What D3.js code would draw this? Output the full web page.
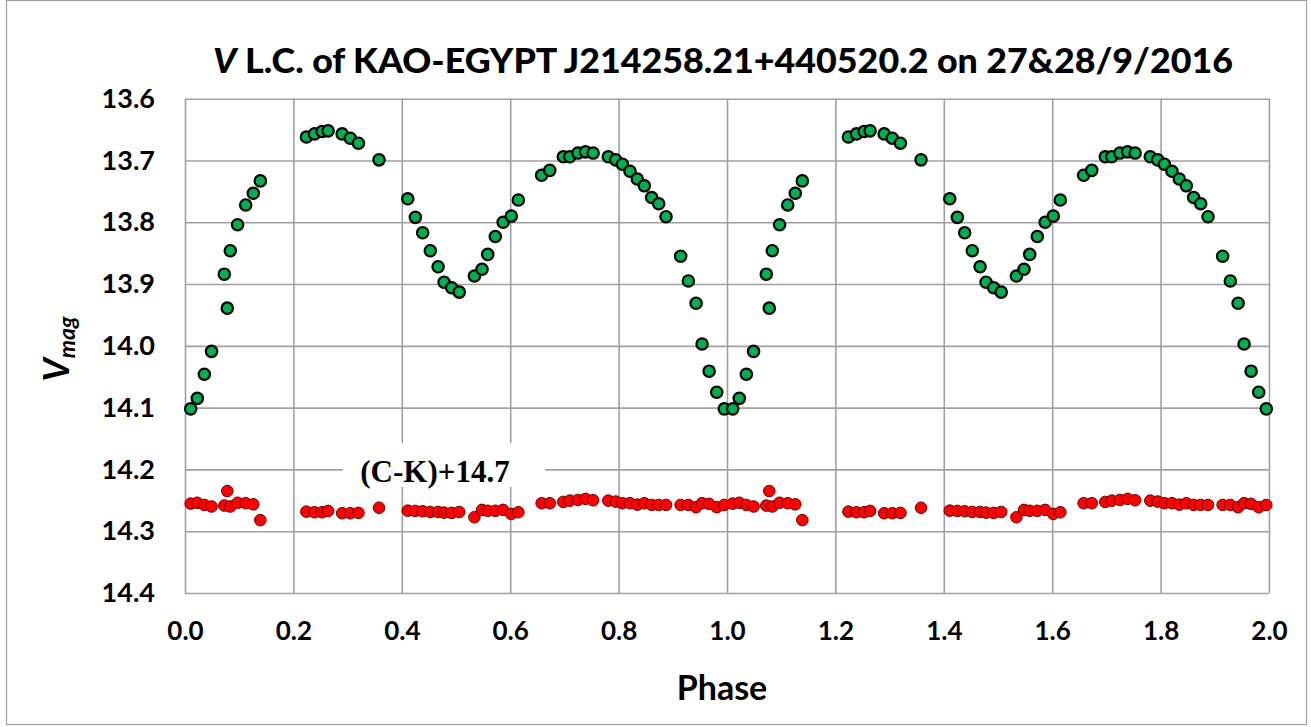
<!DOCTYPE html>
<html>
<head>
<meta charset="utf-8">
<script src="https://d3js.org/d3.v7.min.js"></script>
<style>
  body { margin: 0; background: #fff; }
  svg { display: block; font-family: Lato, "Open Sans", sans-serif; }
</style>
</head>
<body>
<svg width="1311" height="727"></svg>
<script>
// Observations folded on one cycle (phase 0..1), plotted twice (0..2)
var phase = [0.0105, 0.0227, 0.0357, 0.049, 0.0725, 0.078, 0.0836, 0.097, 0.112, 0.126, 0.139,
  0.224, 0.239, 0.253, 0.264, 0.290, 0.305, 0.320, 0.358,
  0.411, 0.425, 0.4385, 0.4526, 0.467, 0.478, 0.492, 0.506,
  0.534, 0.548, 0.5585, 0.5725, 0.587, 0.602, 0.615,
  0.658, 0.673, 0.698, 0.710, 0.725, 0.739, 0.753,
  0.781, 0.7946, 0.807, 0.821, 0.8345, 0.8475, 0.861, 0.874, 0.8875,
  0.9145, 0.9287, 0.943, 0.954, 0.967, 0.981, 0.995];

var vmag = [14.102, 14.085, 14.046, 14.009, 13.884, 13.939, 13.846, 13.804, 13.772, 13.753, 13.733,
  13.662, 13.657, 13.653, 13.652, 13.657, 13.664, 13.672, 13.699,
  13.762, 13.792, 13.817, 13.846, 13.872, 13.897, 13.906, 13.913,
  13.887, 13.876, 13.852, 13.823, 13.800, 13.790, 13.764,
  13.724, 13.716, 13.694, 13.694, 13.688, 13.686, 13.688,
  13.694, 13.699, 13.706, 13.7175, 13.730, 13.741, 13.760, 13.770, 13.791,
  13.855, 13.895, 13.931, 13.997, 14.041, 14.075, 14.102];

// comparison minus check, shifted by +14.7
var ckmag = [14.2553, 14.254, 14.2575, 14.260, 14.2585, 14.235, 14.260, 14.254, 14.2547, 14.2565, 14.282,
  14.2683, 14.2693, 14.2693, 14.2672, 14.2709, 14.2709, 14.2704, 14.262,
  14.2667, 14.2672, 14.2677, 14.2688, 14.2688, 14.2699, 14.2704, 14.2688,
  14.2774, 14.2655, 14.267, 14.267, 14.2655, 14.272, 14.2693,
  14.2547, 14.2547, 14.2526, 14.2505, 14.2494, 14.2477, 14.2499,
  14.2505, 14.252, 14.2547, 14.2547, 14.257, 14.2547, 14.2575, 14.2575, 14.2575,
  14.2575, 14.2575, 14.2612, 14.2547, 14.2558, 14.2612, 14.2575];

var cycles = [0, 1];
var xTicks = [0, 0.2, 0.4, 0.6, 0.8, 1.0, 1.2, 1.4, 1.6, 1.8, 2.0];
var yTicks = [13.6, 13.7, 13.8, 13.9, 14.0, 14.1, 14.2, 14.3, 14.4];

var svg = d3.select("svg");

var plotLeft = 185, plotRight = 1269, plotTop = 98.7, plotBottom = 593;

var x = d3.scaleLinear().domain([0, 2]).range([plotLeft, plotRight]);
var y = d3.scaleLinear().domain([13.6, 14.4]).range([plotTop, plotBottom]);

// build points for both cycles
var points = [];
cycles.forEach(function (c) {
  phase.forEach(function (p, i) {
    points.push({ ph: p + c, v: vmag[i], ck: ckmag[i] });
  });
});

// outer chart border
svg.append("rect")
  .attr("x", 6.5).attr("y", 0.5)
  .attr("width", 1300).attr("height", 724)
  .attr("fill", "none")
  .attr("stroke", "#a0a0a0")
  .attr("stroke-width", 1.2);

// gridlines
svg.append("g")
  .attr("transform", "translate(0," + plotBottom + ")")
  .call(d3.axisBottom(x).tickValues(xTicks).tickSize(-(plotBottom - plotTop)).tickFormat(""))
  .call(function (g) { g.select(".domain").remove(); })
  .selectAll("line").attr("stroke", "#a0a0a0").attr("stroke-width", 1.6);

svg.append("g")
  .attr("transform", "translate(" + plotLeft + ",0)")
  .call(d3.axisLeft(y).tickValues(yTicks).tickSize(-(plotRight - plotLeft)).tickFormat(""))
  .call(function (g) { g.select(".domain").remove(); })
  .selectAll("line").attr("stroke", "#a0a0a0").attr("stroke-width", 1.6);

// tick labels
svg.append("g")
  .attr("transform", "translate(0," + plotBottom + ")")
  .call(d3.axisBottom(x).tickValues(xTicks).tickSize(0).tickPadding(29).tickFormat(d3.format(".1f")))
  .call(function (g) { g.select(".domain").remove(); })
  .selectAll("text")
  .attr("font-family", "Lato, sans-serif")
  .attr("font-size", 26).attr("font-weight", "bold").attr("fill", "#000");

svg.append("g")
  .attr("transform", "translate(" + plotLeft + ",0)")
  .call(d3.axisLeft(y).tickValues(yTicks).tickSize(0).tickPadding(30).tickFormat(d3.format(".1f")))
  .call(function (g) { g.select(".domain").remove(); })
  .selectAll("text")
  .attr("font-family", "Lato, sans-serif")
  .attr("font-size", 27).attr("font-weight", "bold").attr("fill", "#000");

// (C-K) label with white box over the grid
svg.append("rect")
  .attr("x", 343).attr("y", 443)
  .attr("width", 202).attr("height", 44)
  .attr("fill", "#fff");
svg.append("text")
  .attr("x", 435).attr("y", 482)
  .attr("text-anchor", "middle")
  .attr("font-family", "'Liberation Serif', 'Times New Roman', serif")
  .attr("font-weight", "bold")
  .attr("font-size", 31)
  .text("(C-K)+14.7");

// red comparison points
svg.append("g")
  .selectAll("circle")
  .data(points)
  .enter().append("circle")
  .attr("cx", function (d) { return x(d.ph); })
  .attr("cy", function (d) { return y(d.ck); })
  .attr("r", 5.8)
  .attr("fill", "#ff0000")
  .attr("stroke", "#6b0000")
  .attr("stroke-width", 1);

// green variable points
svg.append("g")
  .selectAll("circle")
  .data(points)
  .enter().append("circle")
  .attr("cx", function (d) { return x(d.ph); })
  .attr("cy", function (d) { return y(d.v); })
  .attr("r", 5.7)
  .attr("fill", "#00b050")
  .attr("stroke", "#000")
  .attr("stroke-width", 2.2);

// title
var title = svg.append("text")
  .attr("x", 723).attr("y", 73)
  .attr("text-anchor", "middle")
  .attr("font-family", "Lato, sans-serif")
  .attr("font-weight", "900")
  .attr("font-size", 35)
  .attr("textLength", 1020)
  .attr("lengthAdjust", "spacingAndGlyphs");
title.append("tspan").attr("font-style", "italic").text("V");
title.append("tspan").text(" L.C. of KAO-EGYPT J214258.21+440520.2 on 27&28/9/2016");

// axis titles
svg.append("text")
  .attr("x", 722).attr("y", 700)
  .attr("text-anchor", "middle")
  .attr("font-family", "Lato, sans-serif")
  .attr("font-weight", "bold")
  .attr("font-size", 34)
  .text("Phase");

var ylab = svg.append("text")
  .attr("transform", "translate(69,349) rotate(-90)")
  .attr("text-anchor", "middle")
  .attr("font-family", "Lato, sans-serif")
  .attr("font-weight", "bold")
  .attr("font-style", "italic")
  .attr("font-size", 36);
ylab.append("tspan").text("V");
ylab.append("tspan").attr("font-size", 23).attr("dy", 6).text("mag");
</script>
</body>
</html>
